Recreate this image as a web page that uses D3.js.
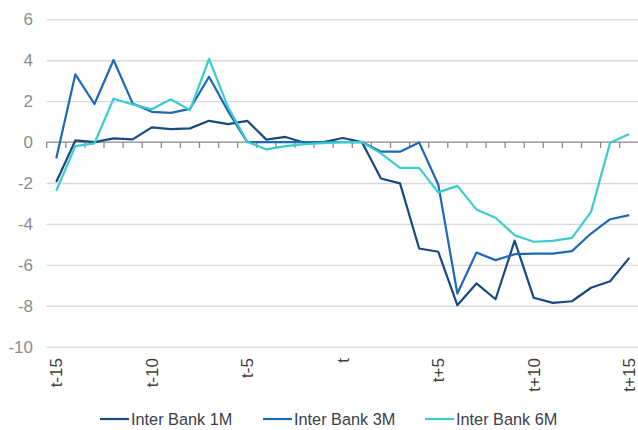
<!DOCTYPE html>
<html>
<head>
<meta charset="utf-8">
<script src="https://cdn.jsdelivr.net/npm/d3@7"></script>
<style>
  body { margin: 0; background: #fff; }
  svg { display: block; font-family: "Liberation Sans", Arial, sans-serif; }
</style>
</head>
<body>
<div id="vis"></div>
<script>
// periods around the event
var categories = ["t-15","t-14","t-13","t-12","t-11","t-10","t-9","t-8","t-7","t-6",
                  "t-5","t-4","t-3","t-2","t-1","t","t+1","t+2","t+3","t+4",
                  "t+5","t+6","t+7","t+8","t+9","t+10","t+11","t+12","t+13","t+14","t+15"];
var xLabels = ["t-15","t-10","t-5","t","t+5","t+10","t+15"];
var yTicks = [-10, -8, -6, -4, -2, 0, 2, 4, 6];

var bank1M = [-1.95, 0.08, 0.0, 0.18, 0.13, 0.72, 0.63, 0.67, 1.04, 0.88,
              1.04, 0.12, 0.25, -0.03, 0.0, 0.2, 0.0, -1.78, -2.02, -5.2,
              -5.36, -7.97, -6.91, -7.68, -4.82, -7.61, -7.86, -7.78, -7.12, -6.8, -5.66];
var bank3M = [-0.8, 3.31, 1.86, 4.01, 1.89, 1.48, 1.43, 1.62, 3.19, 1.5,
              0.0, 0.0, 0.0, 0.0, 0.0, 0.0, 0.0, -0.47, -0.47, -0.02,
              -2.07, -7.4, -5.4, -5.77, -5.48, -5.45, -5.45, -5.33, -4.47, -3.77, -3.57];
var bank6M = [-2.38, -0.2, -0.06, 2.12, 1.84, 1.6, 2.09, 1.56, 4.06, 1.7,
              0.02, -0.36, -0.2, -0.1, -0.05, 0.0, 0.0, -0.55, -1.26, -1.26,
              -2.46, -2.14, -3.29, -3.7, -4.55, -4.87, -4.83, -4.68, -3.41, -0.03, 0.39];

var seriesNames = ["Inter Bank 1M", "Inter Bank 3M", "Inter Bank 6M"];
var seriesColors = ["#174a80", "#1f68b8", "#3ccccc"];
var seriesValues = [bank1M, bank3M, bank6M];

var width = 638,
    height = 430;

var svg = d3.select("#vis").append("svg")
    .attr("width", width)
    .attr("height", height);

var x = d3.scaleBand()
    .domain(categories)
    .range([46.7, 638.8])
    .paddingInner(0)
    .paddingOuter(0);

var y = d3.scaleLinear()
    .domain([-10, 6])
    .range([346.7, 19.3]);

function cx(d) { return x(d) + x.bandwidth() / 2; }

// gridlines
svg.append("g")
    .attr("class", "grid")
    .attr("transform", "translate(" + x.range()[0] + ",0)")
    .call(d3.axisLeft(y).tickValues(yTicks.filter(function (d) { return d !== 0; }))
      .tickSize(-(width - x.range()[0])).tickFormat(""))
    .call(function (g) { g.select(".domain").remove(); })
    .selectAll("line")
    .attr("stroke", "#d9d9d9")
    .attr("stroke-width", 1.3);

// y labels (plain hyphen, like the original)
svg.append("g")
    .attr("transform", "translate(33,0)")
    .call(d3.axisLeft(y).tickValues(yTicks).tickSize(0).tickPadding(0)
      .tickFormat(function (d) { return String(d); }))
    .call(function (g) { g.select(".domain").remove(); })
    .selectAll("text")
    .attr("fill", "#8c8c8c")
    .style("font-size", "17px");

// zero axis with ticks between categories
var axisG = svg.append("g").attr("transform", "translate(0," + y(0) + ")");
axisG.append("line")
    .attr("x1", x.range()[0]).attr("x2", width)
    .attr("stroke", "#888").attr("stroke-width", 1.3);
axisG.selectAll(".tk")
    .data(categories)
    .enter().append("line")
    .attr("class", "tk")
    .attr("x1", function (d) { return x(d); })
    .attr("x2", function (d) { return x(d); })
    .attr("y1", 0).attr("y2", 6)
    .attr("stroke", "#888").attr("stroke-width", 1.3);

// x labels, rotated
var labelG = svg.append("g").attr("transform", "translate(0," + y(0) + ")");
labelG.selectAll("text")
    .data(xLabels)
    .enter().append("text")
    .attr("transform", function (d) { return "translate(" + cx(d) + ",0) rotate(-90)"; })
    .attr("x", -216)
    .attr("dy", "0.35em")
    .attr("text-anchor", "end")
    .attr("fill", "#404040")
    .style("font-size", "17px")
    .text(function (d) { return d; });

// lines
var line = d3.line()
    .x(function (d, i) { return cx(categories[i]); })
    .y(function (d) { return y(d); });

svg.selectAll(".series")
    .data(seriesValues)
    .enter().append("path")
    .attr("class", "series")
    .attr("d", line)
    .attr("fill", "none")
    .attr("stroke", function (d, i) { return seriesColors[i]; })
    .attr("stroke-width", 2.2)
    .attr("stroke-linejoin", "round");

// legend
var legendX = [100, 263, 425];
var legend = svg.selectAll(".legend")
    .data(seriesNames)
    .enter().append("g")
    .attr("class", "legend")
    .attr("transform", function (d, i) { return "translate(" + legendX[i] + ",419)"; });

legend.append("line")
    .attr("x1", 0).attr("x2", 29)
    .attr("stroke", function (d, i) { return seriesColors[i]; })
    .attr("stroke-width", 2.2);

legend.append("text")
    .attr("x", 31)
    .attr("dy", "0.36em")
    .attr("fill", "#3a3f4a")
    .style("font-size", "16.3px")
    .text(function (d) { return d; });
</script>
</body>
</html>
